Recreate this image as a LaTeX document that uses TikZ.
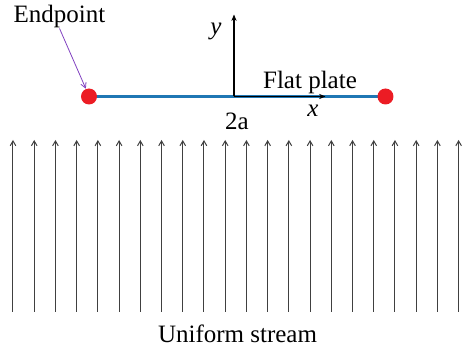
\documentclass[tikz,border=0pt]{standalone}
\usepackage{fontspec}
\setmainfont{Liberation Serif}
\usepackage{xcolor}
\definecolor{platec}{HTML}{1F77B4}
\definecolor{dotc}{HTML}{EC1C24}
\definecolor{tagc}{HTML}{8040C0}
\definecolor{flowc}{HTML}{404040}
\usetikzlibrary{arrows.meta,positioning,calc}
\tikzset{
  x=0.5pt,y=0.5pt,
  lbl/.style={font=\fontsize{12.5}{15}\selectfont,inner sep=0pt,anchor=base},
  var/.style={lbl,font=\fontsize{12.5}{15}\selectfont\itshape},
  dot/.style={circle,fill=dotc,inner sep=0pt,minimum size=8pt},
  plate/.style={draw=platec,line width=1.1pt},
  axis/.style={draw=black,line width=0.55pt,-{Stealth[length=3.2pt,width=2.6pt]}},
  flow/.style={draw=flowc,line width=0.5pt,-{Straight Barb[length=2.4pt,width=2.8pt]}},
  tag/.style={draw=tagc,line width=0.4pt,-{Straight Barb[length=2.6pt,width=2.8pt]}},
}

\begin{document}
\begin{tikzpicture}
  \useasboundingbox (0,0) rectangle (462,354);
  % plate and its two ends
  \coordinate (cL) at (89,257.5);
  \coordinate (cR) at (385.5,257.5);
  \draw[plate] (cL) -- (cR);
  \node[dot] (pL) at (cL) {};
  \node[dot] (pR) at (cR) {};
  % axes
  \coordinate (O) at (234,257.5);
  \coordinate (xtip) at (325.5,257.5);
  \coordinate (ytip) at (234,339.5);
  \draw[axis] (O) -- (ytip);
  \draw[axis] (O) -- (xtip);
  \node[var] (ylab) at (216,319.5) {y};
  \node[var] (xlab) at (313,237) {x};
  \node[lbl] (plab) at (310,265.7) {Flat plate};
  \node[lbl] (len) at (237,224.7) {2a};
  \node[lbl] (endp) at (59.5,331.3) {Endpoint};
  \draw[tag] (endp.south) -- (pL.112);
  % uniform stream
  \foreach \k in {0,...,21} {
    \coordinate (s\k-b) at (13+\k*21.22,42.3);
    \coordinate (s\k-t) at (13+\k*21.22,214);
    \draw[flow] (s\k-b) -- (s\k-t);}
  \node[lbl] (strm) at (237.5,11.7) {Uniform stream};
\end{tikzpicture}
\end{document}
